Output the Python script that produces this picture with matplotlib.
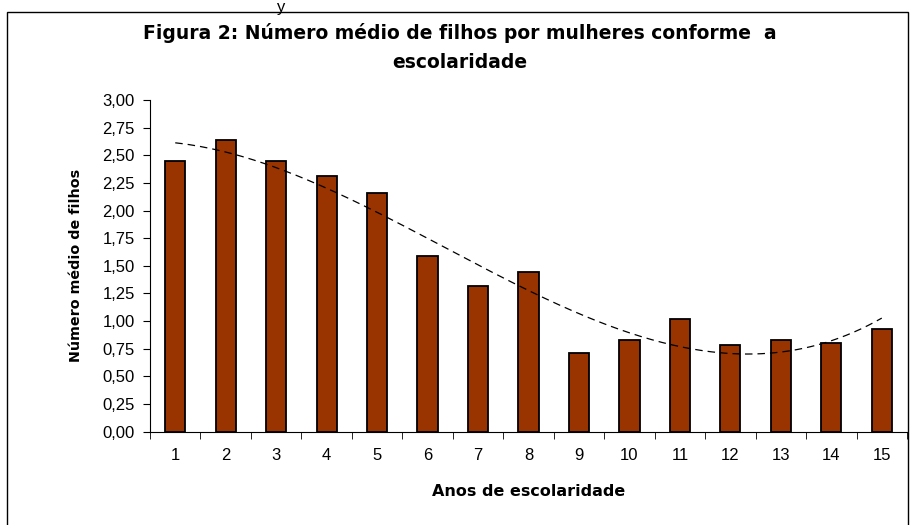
import matplotlib.pyplot as plt
from matplotlib.patches import Rectangle
import numpy as np

plt.rcParams['font.family'] = ['Liberation Sans', 'DejaVu Sans']

anos = list(range(1, 16))
media_filhos = [2.45, 2.64, 2.45, 2.31, 2.16, 1.59, 1.32, 1.44,
                0.71, 0.83, 1.02, 0.78, 0.83, 0.80, 0.93]
y_ticks = [i * 0.25 for i in range(13)]
y_tick_labels = [f'{v:.2f}'.replace('.', ',') for v in y_ticks]

W, H = 911, 525
fig = plt.figure(figsize=(W / 100, H / 100), dpi=100)

# moldura do grafico (estilo Excel)
fig.patches.append(Rectangle((7 / W, -0.05), 901 / W, 1.05 - 12 / H,
                             transform=fig.transFigure, fill=False,
                             edgecolor='black', linewidth=1.0))
fig.text(281 / W, 1.0, 'y', ha='center', va='top', fontsize=12)

ax = fig.add_axes([150 / W, (H - 431.7) / H, 757 / W, 331.7 / H])

x = np.array(anos)
ax.bar(x, media_filhos, width=0.4, color='#993300', edgecolor='black',
       linewidth=1.3, zorder=2)

# linha de tendencia polinomial
coef = np.polyfit(x, media_filhos, 3)
xs = np.linspace(1, 15, 200)
ax.plot(xs, np.polyval(coef, xs), color='black', linestyle=(0, (6, 4)),
        linewidth=0.9, zorder=3)

ax.set_xlim(0.5, 15.5)
ax.set_ylim(0, 3)
ax.set_yticks(y_ticks)
ax.set_yticklabels(y_tick_labels, fontsize=12)
ax.set_xticks(x)
ax.set_xticklabels([str(a) for a in anos], fontsize=12)
ax.set_xticks(np.arange(0.5, 16, 1), minor=True)
ax.tick_params(axis='x', which='major', length=0, pad=12)
ax.tick_params(axis='x', which='minor', length=5, direction='out')
ax.tick_params(axis='y', length=5, direction='out', pad=6)

for s in ['top', 'right']:
    ax.spines[s].set_visible(False)

bold = dict(family='DejaVu Sans', fontweight='bold')
ax.set_xlabel('Anos de escolaridade', fontsize=11.5, labelpad=15, **bold)
ax.set_ylabel('Número médio de filhos', fontsize=10.3, labelpad=14, **bold)

fig.text(460 / W, 1 - 33 / H,
         'Figura 2: Número médio de filhos por mulheres conforme  a',
         ha='center', va='center', fontsize=13.5, **bold)
fig.text(460 / W, 1 - 63 / H, 'escolaridade',
         ha='center', va='center', fontsize=13.5, **bold)

fig.savefig('out.png', dpi=100)
